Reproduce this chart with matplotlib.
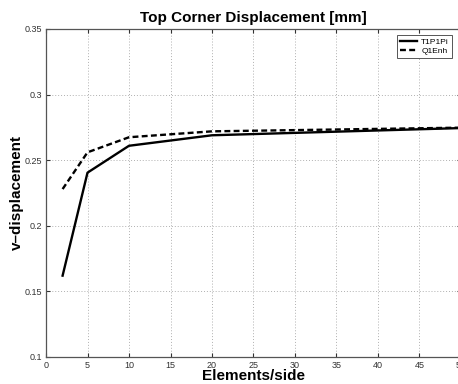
import matplotlib
matplotlib.use("Agg")
import matplotlib.pyplot as plt

# Mesh refinement study: vertical displacement of the top corner
elements_per_side = [2, 5, 10, 20, 50]
t1p1pi = [0.162, 0.2405, 0.261, 0.269, 0.2745]
q1enh = [0.228, 0.256, 0.2675, 0.272, 0.2748]

x_ticks = [0, 5, 10, 15, 20, 25, 30, 35, 40, 45, 50]
y_ticks = [0.1, 0.15, 0.2, 0.25, 0.3, 0.35]
y_ticklabels = ["0.1", "0.15", "0.2", "0.25", "0.3", "0.35"]

plt.rcParams["font.family"] = ["Liberation Sans", "DejaVu Sans"]

fig = plt.figure(figsize=(4.58, 3.84), dpi=100)
ax = fig.add_axes([46 / 458, 1 - 357 / 384, 415 / 458, 328 / 384])

ax.plot(elements_per_side, t1p1pi, color="black", lw=1.7, ls="-", label="T1P1Pi")
ax.plot(elements_per_side, q1enh, color="black", lw=1.7, ls=(0, (2.5, 1.4)), label="Q1Enh")

ax.set_xlim(0, 50)
ax.set_ylim(0.1, 0.35)
ax.set_xticks(x_ticks)
ax.set_yticks(y_ticks)
ax.set_yticklabels(y_ticklabels)
ax.tick_params(direction="in", length=3, width=0.8, labelsize=6.5, pad=3,
               top=True, right=True, colors="#333333", labelcolor="#333333")
for sp in ax.spines.values():
    sp.set_color("#555555")
    sp.set_linewidth(0.9)

ax.grid(True, ls=(0, (1, 2)), color="#b0b0b0", lw=0.7)

ax.set_title("Top Corner Displacement [mm]", fontsize=11, fontweight="bold", pad=5)
ax.set_xlabel("Elements/side", fontsize=11, fontweight="bold", labelpad=-1)
ax.set_ylabel("v\u2013displacement", fontsize=11, fontweight="bold", labelpad=0)

leg = ax.legend(loc="upper right", fontsize=6, handlelength=2.0, handletextpad=0.5,
                borderpad=0.35, labelspacing=0.2, fancybox=False, framealpha=1,
                edgecolor="#555555", bbox_to_anchor=(0.988, 0.995))
leg.get_frame().set_linewidth(0.7)

fig.savefig("out.png", dpi=100)
